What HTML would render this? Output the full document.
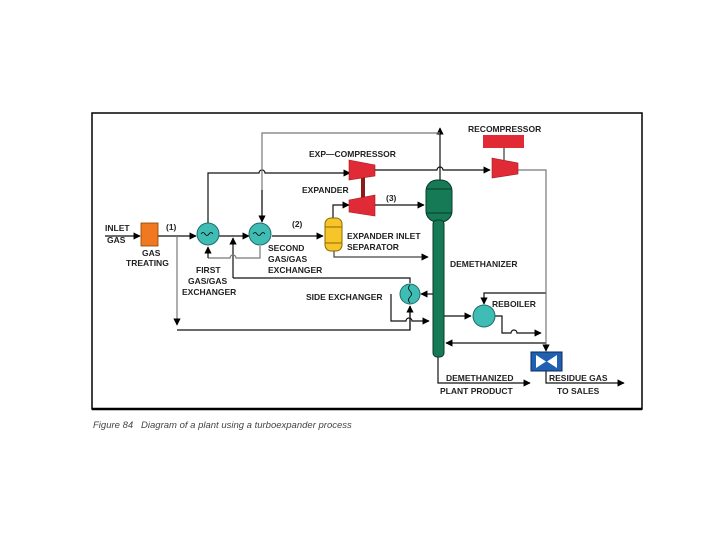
<!DOCTYPE html>
<html><head><style>
body{margin:0;background:#fff;width:720px;height:540px;overflow:hidden}
svg text{font-family:"Liberation Sans",sans-serif;font-weight:bold;font-size:8.5px;fill:#222}
</style></head><body>
<svg width="720" height="540" viewBox="0 0 720 540">
<defs>
<marker id="a" viewBox="0 0 10 10" refX="9" refY="5" markerWidth="6" markerHeight="6" orient="auto"><path d="M0,0L10,5L0,10z" fill="#000"/></marker>
</defs>
<rect x="92" y="113" width="550" height="296" fill="#fff" stroke="#000" stroke-width="1.5"/>
<line x1="92" y1="409" x2="642" y2="409" stroke="#000" stroke-width="2.5"/>
<g fill="none" stroke="#111" stroke-width="1.2">
<line x1="105" y1="236" x2="140" y2="236" marker-end="url(#a)"/>
<line x1="158" y1="236" x2="196" y2="236" marker-end="url(#a)"/>
<line x1="219" y1="236" x2="249" y2="236" marker-end="url(#a)"/>
<line x1="272" y1="236" x2="323" y2="236" marker-end="url(#a)"/>
<path d="M208,223V173H259a3,3 0 0 1 6,0H350" marker-end="url(#a)"/>
<path d="M333,218V205H349" marker-end="url(#a)"/>
<line x1="375" y1="205" x2="424" y2="205" marker-end="url(#a)"/>
<path d="M375,170H437a3,3 0 0 1 6,0H490" marker-end="url(#a)"/>
<line x1="440" y1="180" x2="440" y2="128" marker-end="url(#a)"/>
<line x1="233" y1="278" x2="233" y2="238" marker-end="url(#a)"/>
<path d="M233,278H410V283"/>
<path d="M410,306V330H177"/>
<line x1="433" y1="294" x2="421" y2="294" marker-end="url(#a)"/>
<path d="M391,294V321H406a3,3 0 0 1 6,0H429" marker-end="url(#a)"/>
<line x1="410" y1="330" x2="410" y2="306" marker-end="url(#a)"/>
<line x1="444" y1="316" x2="471" y2="316" marker-end="url(#a)"/>
<path d="M495,316H502V333H511a3,3 0 0 1 6,0H541" marker-end="url(#a)"/>
<path d="M546,293H484V304" marker-end="url(#a)"/>
<line x1="546" y1="343" x2="446" y2="343" marker-end="url(#a)"/>
<path d="M438,355V383H530" marker-end="url(#a)"/>
<path d="M546,371V383H624" marker-end="url(#a)"/>
</g>
<g fill="none" stroke="#777" stroke-width="1.2">
<path d="M177,236V325" marker-end="url(#a)"/>
<path d="M262,222V133H440"/>
<line x1="262" y1="190" x2="262" y2="222" marker-end="url(#a)" stroke="#111"/>
<path d="M518,170H546V351" marker-end="url(#a)"/>
<path d="M208,258H230a3,3 0 0 1 6,0H260V246"/>
<line x1="208" y1="258" x2="208" y2="247" stroke="#111" marker-end="url(#a)"/>
<path d="M334,250V257H428" stroke="#444" marker-end="url(#a)"/>
</g>
<rect x="141" y="223" width="17" height="23" fill="#f07820" stroke="#8a4000" stroke-width="0.8"/>
<circle cx="208" cy="234" r="11" fill="#3fbdb4" stroke="#1c6e6a"/>
<circle cx="260" cy="234" r="11" fill="#3fbdb4" stroke="#1c6e6a"/>
<path d="M201,234q2,-3 4,0t4,0t4,0M253,234q2,-3 4,0t4,0t4,0" fill="none" stroke="#000" stroke-width="0.8"/>
<rect x="325" y="218" width="17" height="33" rx="6" fill="#f7c52a" stroke="#8a6a00"/>
<line x1="325" y1="227" x2="342" y2="227" stroke="#8a6a00"/><line x1="325" y1="243" x2="342" y2="243" stroke="#8a6a00"/>
<rect x="361" y="172" width="4" height="30" fill="#8b1a1a"/>
<path d="M349,160L375,165V176L349,180z" fill="#e02a35" stroke="#a01820" stroke-width="0.6"/>
<path d="M349,200L375,195V216L349,212z" fill="#e02a35" stroke="#a01820" stroke-width="0.6"/>
<rect x="483" y="135" width="41" height="13" fill="#e02a35"/>
<line x1="504" y1="148" x2="504" y2="160" stroke="#111"/>
<path d="M492,158L518,163V174L492,178z" fill="#e02a35" stroke="#a01820" stroke-width="0.6"/>
<rect x="426" y="180" width="26" height="42" rx="11" fill="#157a55" stroke="#0a3a28"/>
<line x1="426" y1="189" x2="452" y2="189" stroke="#0a3a28"/><line x1="426" y1="213" x2="452" y2="213" stroke="#0a3a28"/>
<rect x="433" y="220" width="11" height="137" rx="4" fill="#157a55" stroke="#0a3a28"/>
<circle cx="410" cy="294" r="10" fill="#3fbdb4" stroke="#1c6e6a"/>
<path d="M410,285q-3,3 0,6t0,6t0,6" fill="none" stroke="#000" stroke-width="0.8"/>
<circle cx="484" cy="316" r="11" fill="#3fbdb4" stroke="#1c6e6a"/>
<rect x="531" y="352" width="31" height="19" fill="#2060b0" stroke="#0a2a60"/>
<path d="M536,355L546,361.5L536,368zM557,355L547,361.5L557,368z" fill="#fff"/>
<text x="105" y="231">INLET</text><text x="107" y="243">GAS</text>
<text x="166" y="230">(1)</text><text x="292" y="227">(2)</text><text x="386" y="201">(3)</text>
<text x="142" y="256">GAS</text><text x="126" y="266">TREATING</text>
<text x="196" y="273">FIRST</text><text x="188" y="284">GAS/GAS</text><text x="182" y="295">EXCHANGER</text>
<text x="268" y="251">SECOND</text><text x="268" y="262">GAS/GAS</text><text x="268" y="273">EXCHANGER</text>
<text x="347" y="239">EXPANDER INLET</text><text x="347" y="250">SEPARATOR</text>
<text x="309" y="157">EXP—COMPRESSOR</text><text x="302" y="193">EXPANDER</text>
<text x="468" y="132">RECOMPRESSOR</text>
<text x="450" y="267">DEMETHANIZER</text>
<text x="306" y="300">SIDE EXCHANGER</text>
<text x="492" y="307">REBOILER</text>
<text x="446" y="381">DEMETHANIZED</text><text x="440" y="394">PLANT PRODUCT</text>
<text x="549" y="381">RESIDUE GAS</text><text x="557" y="394">TO SALES</text>
<text x="93" y="428" style="font-weight:normal;font-style:italic;font-size:9.5px;fill:#444">Figure 84 &#160; Diagram of a plant using a turboexpander process</text>
</svg>
</body></html>
